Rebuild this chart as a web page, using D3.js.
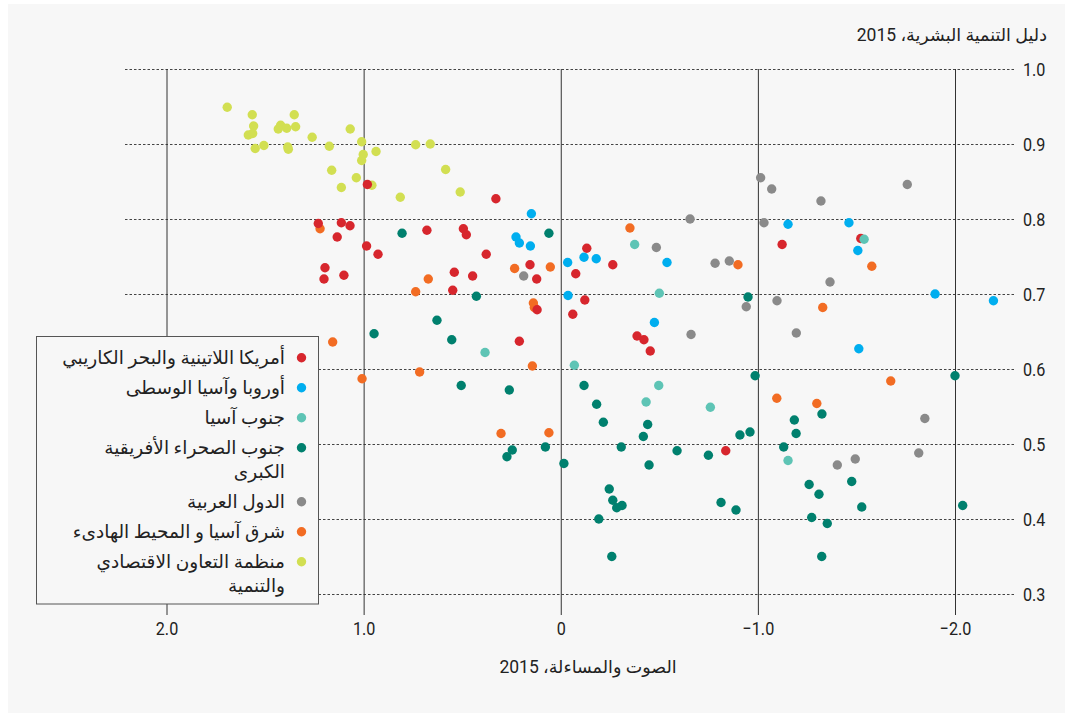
<!DOCTYPE html>
<html>
<head>
<meta charset="utf-8">
<script src="https://cdn.jsdelivr.net/npm/d3@7"></script>
<style>
  body { margin: 0; background: #ffffff; }
  svg { display: block; }
  .num { font-family: Roboto, "Liberation Sans", sans-serif; }
  .ar { font-family: Roboto, "DejaVu Sans", sans-serif; }
</style>
</head>
<body>
<svg id="chart" width="1065" height="713"></svg>
<script>
// Voice and accountability (x) against Human Development Index (y), 2015, by region
const regionNames = [
  ["أمريكا اللاتينية والبحر الكاريبي"],
  ["أوروبا وآسيا الوسطى"],
  ["جنوب آسيا"],
  ["جنوب الصحراء الأفريقية", "الكبرى"],
  ["الدول العربية"],
  ["شرق آسيا و المحيط الهادىء"],
  ["منظمة التعاون الاقتصادي", "والتنمية"]
];
const regionColors = ["#d7262d", "#00aeef", "#5ec4b5", "#00806e", "#8a8a8a", "#f26c23", "#d2df52"];

const latinAmerica = [
  [1.230, 0.794], [1.113, 0.795], [1.069, 0.791], [1.134, 0.776], [0.981, 0.846],
  [0.329, 0.827], [0.679, 0.785], [0.494, 0.787], [0.479, 0.779], [1.196, 0.735],
  [1.201, 0.720], [1.100, 0.725], [0.985, 0.764], [0.927, 0.753], [0.378, 0.753],
  [0.540, 0.729], [0.447, 0.724], [0.548, 0.705], [0.156, 0.739], [0.122, 0.720],
  [0.120, 0.679], [0.210, 0.637], [-0.132, 0.761], [-0.076, 0.727], [-0.264, 0.739],
  [-0.122, 0.692], [-0.061, 0.673], [-0.387, 0.644], [-0.422, 0.639], [-0.454, 0.624],
  [-1.123, 0.766], [-1.522, 0.774], [-0.837, 0.491]
];
const europeCentralAsia = [
  [0.149, 0.807], [0.227, 0.776], [0.210, 0.768], [0.154, 0.764], [-0.035, 0.742],
  [-0.118, 0.749], [-0.180, 0.747], [-0.037, 0.698], [-0.475, 0.662], [-0.539, 0.742],
  [-1.153, 0.793], [-1.462, 0.795], [-1.507, 0.758], [-1.899, 0.700], [-2.195, 0.691],
  [-1.512, 0.627]
];
const southAsia = [
  [-0.375, 0.766], [-0.500, 0.701], [0.384, 0.622], [-0.069, 0.605], [-0.497, 0.578],
  [-0.433, 0.556], [-0.759, 0.549], [-1.539, 0.773], [-1.153, 0.478]
];
const subSaharanAfrica = [
  [0.805, 0.781], [0.060, 0.781], [0.428, 0.697], [0.628, 0.665], [0.947, 0.647],
  [0.553, 0.639], [0.505, 0.578], [0.261, 0.572], [-0.118, 0.578], [-0.182, 0.553],
  [-0.216, 0.529], [-0.441, 0.526], [-0.419, 0.510], [-0.307, 0.496], [-0.590, 0.491],
  [-0.749, 0.485], [0.273, 0.483], [0.246, 0.492], [0.078, 0.496], [-0.016, 0.474],
  [-0.448, 0.472], [-0.950, 0.696], [-0.986, 0.591], [-2.000, 0.591], [-1.325, 0.540],
  [-1.185, 0.532], [-1.194, 0.514], [-0.909, 0.512], [-0.960, 0.516], [-1.131, 0.496],
  [-0.246, 0.440], [-0.264, 0.425], [-0.284, 0.415], [-0.311, 0.418], [-0.193, 0.400],
  [-0.259, 0.350], [-0.813, 0.422], [-0.889, 0.412], [-1.260, 0.446], [-1.310, 0.433],
  [-1.476, 0.450], [-1.527, 0.416], [-1.273, 0.402], [-1.352, 0.394], [-1.324, 0.350],
  [-2.039, 0.418]
];
const arabStates = [
  [-1.014, 0.855], [-1.070, 0.840], [-1.320, 0.824], [-1.758, 0.846], [-1.031, 0.795],
  [-0.656, 0.800], [-0.485, 0.762], [0.188, 0.724], [-0.661, 0.646], [-0.783, 0.741],
  [-0.855, 0.744], [-1.097, 0.691], [-0.941, 0.683], [-1.366, 0.716], [-1.195, 0.648],
  [-1.847, 0.534], [-1.816, 0.488], [-1.494, 0.480], [-1.403, 0.472]
];
const eastAsiaPacific = [
  [1.221, 0.787], [1.157, 0.636], [1.008, 0.587], [0.736, 0.703], [0.672, 0.720],
  [0.234, 0.734], [0.053, 0.736], [0.139, 0.688], [0.134, 0.682], [0.716, 0.596],
  [0.144, 0.604], [0.303, 0.514], [0.060, 0.515], [-0.351, 0.788], [-0.899, 0.739],
  [-1.578, 0.737], [-1.329, 0.682], [-1.674, 0.584], [-1.096, 0.561], [-1.299, 0.554]
];
const oecd = [
  [1.692, 0.949], [1.565, 0.939], [1.352, 0.939], [1.558, 0.924], [1.421, 0.925],
  [1.433, 0.920], [1.390, 0.921], [1.345, 0.923], [1.585, 0.912], [1.563, 0.914],
  [1.068, 0.920], [1.261, 0.909], [1.506, 0.898], [1.550, 0.894], [1.385, 0.896],
  [1.382, 0.893], [1.174, 0.897], [1.010, 0.903], [1.002, 0.886], [1.010, 0.878],
  [0.937, 0.890], [0.736, 0.899], [0.662, 0.900], [0.584, 0.866], [1.037, 0.855],
  [1.113, 0.842], [1.162, 0.865], [0.958, 0.845], [0.814, 0.829], [0.510, 0.836]
];
const regionSeries = [latinAmerica, europeCentralAsia, southAsia, subSaharanAfrica, arabStates, eastAsiaPacific, oecd];
// Painting order of the regions (later ones sit on top)
const drawOrder = [6, 5, 4, 3, 1, 0, 2];

const xTicks = [2, 1, 0, -1, -2];
const xTickLabels = ["2.0", "1.0", "0", "\u22121.0", "\u22122.0"];
const yTicks = [0.3, 0.4, 0.5, 0.6, 0.7, 0.8, 0.9, 1.0];
const yTickLabels = ["0.3", "0.4", "0.5", "0.6", "0.7", "0.8", "0.9", "1.0"];
const xTitle = "الصوت والمساءلة، 2015";
const yTitle = "دليل التنمية البشرية، 2015";

const svg = d3.select("#chart");

// Narrow the numerals to a condensed look
function condense(sel, factor) {
  sel.each(function () {
    const w = this.getComputedTextLength();
    d3.select(this).attr("textLength", w * factor).attr("lengthAdjust", "spacingAndGlyphs");
  });
}

// Panel background
svg.append("rect").attr("x", 8).attr("y", 4).attr("width", 1057).attr("height", 709).attr("fill", "#f7f7f7");

const x = d3.scaleLinear().domain([2, -2]).range([166.5, 955]);
const y = d3.scaleLinear().domain([0.3, 1.0]).range([594, 69]);

// Horizontal dashed grid with labels on the right
const yAxis = d3.axisRight(y)
  .tickValues(yTicks)
  .tickFormat((d, i) => yTickLabels[i])
  .tickSize(890)
  .tickPadding(8);
const gy = svg.append("g").attr("transform", "translate(125,0)").call(yAxis);
gy.select(".domain").remove();
gy.selectAll(".tick line").attr("stroke", "#444").attr("stroke-dasharray", "2.5,2");
gy.selectAll(".tick text").attr("class", "num").attr("font-family", null)
  .attr("font-size", 19).attr("fill", "#222").attr("dy", "0.36em");
condense(gy.selectAll(".tick text"), 0.85);

// Vertical solid lines with labels below
const xAxis = d3.axisBottom(x)
  .tickValues(xTicks)
  .tickFormat((d, i) => xTickLabels[i])
  .tickSize(-546)
  .tickPadding(7);
const gx = svg.append("g").attr("transform", "translate(0,615)").call(xAxis);
gx.select(".domain").remove();
gx.selectAll(".tick line").attr("stroke", "#333").attr("stroke-width", 1);
gx.selectAll(".tick text").attr("class", "num").attr("font-size", 19).attr("fill", "#222");
condense(gx.selectAll(".tick text"), 0.85);

// Points
const dots = svg.append("g");
drawOrder.forEach(r => {
  dots.selectAll(null)
    .data(regionSeries[r])
    .enter().append("circle")
    .attr("cx", d => x(d[0]))
    .attr("cy", d => y(d[1]))
    .attr("r", 4.7)
    .attr("fill", regionColors[r]);
});

// Axis titles
svg.append("text").attr("class", "ar").attr("x", 1047).attr("y", 41)
  .attr("text-anchor", "end").attr("font-size", 17.5).attr("fill", "#222").text(yTitle);
svg.append("text").attr("class", "ar").attr("x", 588).attr("y", 673)
  .attr("text-anchor", "middle").attr("font-size", 17.5).attr("fill", "#222").text(xTitle);

// Legend
const legend = svg.append("g");
legend.append("rect").attr("x", 36.5).attr("y", 336.5).attr("width", 282).attr("height", 267.5)
  .attr("fill", "#f7f7f7").attr("stroke", "#555").attr("stroke-width", 1);
let ly = 357.7;
regionNames.forEach((lines, i) => {
  legend.append("circle").attr("cx", 301.5).attr("cy", ly).attr("r", 4.7).attr("fill", regionColors[i]);
  lines.forEach((line, j) => {
    legend.append("text").attr("class", "ar")
      .attr("x", 285).attr("y", ly + j * 24).attr("dy", "0.35em")
      .attr("font-size", 18.5).attr("fill", "#222")
      .attr("direction", "rtl").style("direction", "rtl")
      .attr("text-anchor", "start")
      .text(line);
  });
  ly += 30 + (lines.length - 1) * 24;
});
</script>
</body>
</html>
